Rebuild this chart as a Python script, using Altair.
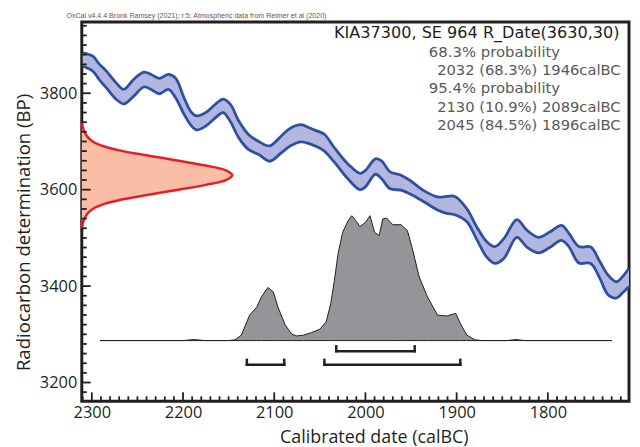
import altair as alt
import pandas as pd

# ---------------- data ----------------
# calibration curve (IntCal20 band): calendar year BC, upper / lower edge in BP
cal_year = [2310, 2299, 2292, 2284, 2273, 2265, 2254, 2243, 2235, 2226,
            2216, 2208, 2199, 2191, 2185, 2175, 2164, 2156, 2148, 2139,
            2128, 2117, 2105, 2092, 2082, 2071, 2061, 2052, 2045, 2034,
            2019, 2006, 2000, 1989, 1982, 1973, 1961, 1951, 1936, 1921,
            1911, 1902, 1889, 1878, 1867, 1858, 1848, 1834, 1823, 1810,
            1798, 1785, 1777, 1766, 1753, 1743, 1734, 1725, 1718, 1711]
cal_upper = [3884, 3877, 3861, 3846, 3821, 3808, 3829, 3844, 3839, 3831,
             3839, 3831, 3791, 3761, 3753, 3760, 3778, 3788, 3777, 3743,
             3714, 3700, 3691, 3712, 3728, 3735, 3728, 3721, 3715, 3687,
             3653, 3634, 3640, 3664, 3659, 3637, 3630, 3619, 3598, 3585,
             3586, 3586, 3561, 3523, 3492, 3482, 3499, 3538, 3516, 3501,
             3512, 3526, 3510, 3482, 3481, 3451, 3423, 3409, 3420, 3437]
cal_lower = [3856, 3846, 3829, 3811, 3787, 3778, 3794, 3813, 3808, 3799,
             3808, 3790, 3757, 3733, 3724, 3732, 3750, 3760, 3741, 3708,
             3683, 3673, 3659, 3677, 3691, 3699, 3695, 3688, 3680, 3657,
             3622, 3600, 3606, 3632, 3622, 3602, 3599, 3591, 3575, 3558,
             3551, 3548, 3534, 3497, 3460, 3447, 3458, 3501, 3481, 3469,
             3480, 3495, 3482, 3448, 3447, 3416, 3382, 3375, 3386, 3399]

# radiocarbon measurement
lab_code = "KIA37300"
sample_name = "SE 964"
r_mean = 3630
r_sigma = 30
rdate_bp = [3520, 3530, 3540, 3550, 3560, 3570, 3580, 3590, 3600, 3610, 3620, 3630,
            3640, 3650, 3660, 3670, 3680, 3690, 3700, 3710, 3720, 3730, 3740]
rdate_width = [0, 1, 3, 6, 12, 24, 45, 75, 106, 136, 158, 165,
               158, 136, 106, 75, 45, 24, 12, 6, 3, 1, 0]   # in calendar years

# calibrated (posterior) distribution, relative probability
post_year = [2291, 2200, 2188, 2176, 2150, 2143, 2136, 2127, 2119, 2114,
             2107, 2101, 2096, 2088, 2081, 2076, 2068, 2059, 2050, 2043,
             2038, 2034, 2030, 2025, 2019, 2015, 2010, 2006, 2000, 1995,
             1990, 1985, 1981, 1977, 1970, 1961, 1954, 1949, 1941, 1932,
             1921, 1911, 1901, 1896, 1889, 1880, 1872, 1845, 1835, 1825, 1730]
post_prob = [0, 0, 0.008, 0, 0, 0.006, 0.045, 0.204, 0.27, 0.35,
             0.425, 0.39, 0.27, 0.125, 0.053, 0.037, 0.043, 0.064, 0.091, 0.151,
             0.298, 0.483, 0.695, 0.867, 0.96, 1.0, 0.955, 0.912, 0.947, 1.0,
             0.867, 0.841, 0.974, 0.982, 0.928, 0.928, 0.881, 0.748, 0.509, 0.35,
             0.204, 0.197, 0.218, 0.138, 0.045, 0.006, 0, 0, 0.008, 0, 0]

# probability ranges
prob_levels = ["68.3%", "95.4%"]
range_from = [[2032], [2130, 2045]]
range_to = [[1946], [2089, 1896]]
range_pct = [["68.3%"], ["10.9%", "84.5%"]]

x_major = [2300, 2200, 2100, 2000, 1900, 1800]
y_major = [3200, 3400, 3600, 3800]
x_minor = [v for v in range(1720, 2311, 10) if v % 100 != 0]
y_minor = [v for v in range(3180, 3941, 20) if v % 200 != 0]

credit = "OxCal v4.4.4 Bronk Ramsey (2021); r:5; Atmospheric data from Reimer et al (2020)"

# ---------------- layout / style ----------------
W, H = 551, 382
X_DOM = [1711, 2311]
Y_DOM = [3161, 3948]
FONT = "Open Sans"
TFONT = "DejaVu Sans"
DARK = "#231f20"
GREY_TXT = "#58595b"
BLUE = "#2e50a3"
BAND = "#b3b6de"
RED = "#ec1c24"
SALMON = "#f9bea5"
POST_FILL = "#939598"
POST_BASE = 3287
POST_SCALE = 259
BRACKET_BP = [3265, 3237]
CAP = 10

xs = alt.Scale(domain=X_DOM, reverse=True, nice=False, zero=False)
ys = alt.Scale(domain=Y_DOM, nice=False, zero=False)

xaxis = alt.Axis(values=x_major, title="Calibrated date (calBC)", domain=False, ticks=False,
                 tickSize=0, grid=False, labelFont=FONT, labelFontSize=16.5, labelColor=DARK,
                 labelPadding=3.5, labelFlush=False, labelOverlap=False, format="d",
                 titleFont=FONT, titleFontSize=18, titleFontWeight="normal", titleColor=DARK,
                 titleX=294, titleY=41.5, titleBaseline="alphabetic")
yaxis = alt.Axis(values=y_major, title="Radiocarbon determination (BP)", domain=False, ticks=False,
                 tickSize=0, grid=False, labelFont=FONT, labelFontSize=16.5, labelColor=DARK,
                 labelPadding=5, labelFlush=False, labelOverlap=False, format="d",
                 titleFont=FONT, titleFontSize=18.7, titleFontWeight="normal", titleColor=DARK,
                 titleX=-59, titleY=211.5, titleAngle=270, titleBaseline="middle")


def X(f):
    return alt.X(f, type="quantitative", scale=xs, axis=xaxis)


def Y(f):
    return alt.Y(f, type="quantitative", scale=ys, axis=yaxis)


# calibration curve
cal_df = pd.DataFrame({"year": cal_year, "upper": cal_upper, "lower": cal_lower})
band = alt.Chart(cal_df).mark_area(interpolate="catmull-rom", fill=BAND, opacity=1).encode(
    x=X("year"), y=Y("lower"), y2=alt.Y2("upper"))
up_line = alt.Chart(cal_df).mark_line(interpolate="catmull-rom", color=BLUE, strokeWidth=2.8).encode(
    x=X("year"), y=Y("upper"))
lo_line = alt.Chart(cal_df).mark_line(interpolate="catmull-rom", color=BLUE, strokeWidth=2.8).encode(
    x=X("year"), y=Y("lower"))

# R_Date distribution on the y axis
r_df = pd.DataFrame({"bp": rdate_bp, "w": rdate_width})
r_df["xc"] = X_DOM[1] - r_df["w"]
r_df["x0"] = X_DOM[1]
red_area = alt.Chart(r_df).mark_area(orient="horizontal", interpolate="catmull-rom",
                                     fill=SALMON, opacity=1).encode(
    y=Y("bp"), x=X("xc"), x2=alt.X2("x0"))
red_line = alt.Chart(r_df).mark_line(interpolate="catmull-rom", color=RED, strokeWidth=2.5).encode(
    y=Y("bp"), x=X("xc"), order=alt.Order("bp"))

# posterior
post_df = pd.DataFrame({"year": post_year, "p": post_prob})
post = alt.Chart(post_df).transform_calculate(
    top=f"{POST_BASE} + datum.p * {POST_SCALE}", base=f"{POST_BASE}"
).mark_area(fill=POST_FILL, stroke=DARK, strokeWidth=1, opacity=1).encode(
    x=X("year"), y=Y("top"), y2=alt.Y2("base"))

# range brackets
rows = []
for i, lvl in enumerate(prob_levels):
    for a, b in zip(range_from[i], range_to[i]):
        rows.append({"from": a, "to": b, "bp": BRACKET_BP[i], "cap": BRACKET_BP[i] + CAP})
br_df = pd.DataFrame(rows)
br_h = alt.Chart(br_df).mark_rule(color=DARK, strokeWidth=2.5, strokeCap="square").encode(
    x=X("from"), x2=alt.X2("to"), y=Y("bp"))
br_a = alt.Chart(br_df).mark_rule(color=DARK, strokeWidth=2.5, strokeCap="square").encode(
    x=X("from"), y=Y("bp"), y2=alt.Y2("cap"))
br_b = alt.Chart(br_df).mark_rule(color=DARK, strokeWidth=2.5, strokeCap="square").encode(
    x=X("to"), y=Y("bp"), y2=alt.Y2("cap"))


# inward ticks
def xticks(vals, length):
    return alt.Chart(pd.DataFrame({"v": vals})).mark_rule(color=DARK, strokeWidth=1.8).encode(
        x=X("v"), y=alt.value(H), y2=alt.value(H - length))


def yticks(vals, length):
    return alt.Chart(pd.DataFrame({"v": vals})).mark_rule(color=DARK, strokeWidth=1.8).encode(
        y=Y("v"), x=alt.value(0), x2=alt.value(length))


# texts
def label(txt, x, y, align, size, color, font=TFONT):
    return alt.Chart(pd.DataFrame({"t": [txt]})).mark_text(
        align=align, baseline="alphabetic", font=font, fontSize=size, color=color
    ).encode(x=alt.value(x), y=alt.value(y), text="t:N")


texts = [
    label(credit, -15.5, -3.5, "left", 7.1, GREY_TXT, "Liberation Sans"),
    label(f"{lab_code}, {sample_name} R_Date({r_mean},{r_sigma})", 541.5, 16.5, "right", 16.2, DARK),
]
yline = 35.0
for i, lvl in enumerate(prob_levels):
    texts.append(label(f"{lvl} probability", 349.4, yline, "left", 15, GREY_TXT))
    yline += 18.5
    for a, b, pct in zip(range_from[i], range_to[i], range_pct[i]):
        texts.append(label(f"{a} ({pct}) {b}calBC", 542.5, yline, "right", 14.8, GREY_TXT))
        yline += 18.5

chart = alt.layer(
    band, up_line, lo_line, red_area, red_line, post, br_h, br_a, br_b,
    xticks(x_major, 9), xticks(x_minor, 5), yticks(y_major, 9), yticks(y_minor, 5),
    *texts
).properties(
    width=W, height=H,
    autosize=alt.AutoSizeParams(type="none"),
    padding={"left": 74.3, "top": 12.5, "right": 3, "bottom": 46},
    background="white",
).configure_view(stroke=DARK, strokeWidth=3)

chart.save("out.html", embed_options={"renderer": "svg", "actions": False})
